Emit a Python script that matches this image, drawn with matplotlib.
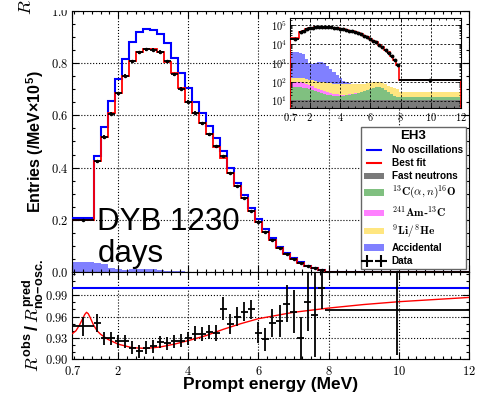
import numpy as np
import matplotlib
matplotlib.use("Agg")
import matplotlib.pyplot as plt
from matplotlib.ticker import FixedLocator, FixedFormatter, MultipleLocator, FuncFormatter, NullFormatter, LogLocator
from matplotlib.lines import Line2D
from matplotlib.patches import Patch, Rectangle

# ---------------- data ----------------
edges = [0.7] + [round(1.3 + 0.2 * i, 1) for i in range(34)] + [12.0]

# spectra in units of 1e5 entries / MeV
best_fit = [0.200, 0.426, 0.518, 0.608, 0.685, 0.751, 0.810, 0.844, 0.855, 0.854,
            0.844, 0.806, 0.761, 0.704, 0.652, 0.610, 0.570, 0.528, 0.480, 0.436,
            0.380, 0.329, 0.282, 0.235, 0.193, 0.154, 0.123, 0.091, 0.069, 0.051,
            0.036, 0.023, 0.014, 0.008, 0.0013]
no_osc = [0.206, 0.446, 0.557, 0.656, 0.739, 0.816, 0.880, 0.918, 0.931, 0.927,
          0.913, 0.879, 0.821, 0.761, 0.704, 0.652, 0.608, 0.559, 0.512, 0.462,
          0.398, 0.342, 0.294, 0.246, 0.203, 0.163, 0.129, 0.096, 0.073, 0.054,
          0.038, 0.024, 0.015, 0.0085, 0.0014]
data_obs = [0.199, 0.424, 0.517, 0.607, 0.684, 0.752, 0.808, 0.841, 0.853, 0.852,
            0.843, 0.807, 0.758, 0.703, 0.652, 0.610, 0.569, 0.527, 0.481, 0.444,
            0.379, 0.330, 0.282, 0.234, 0.191, 0.152, 0.123, 0.092, 0.070, 0.051,
            0.035, 0.023, 0.014, 0.008, 0.0013]
data_err = [0.003, 0.006, 0.006, 0.006, 0.006, 0.006, 0.006, 0.006, 0.006, 0.006,
            0.006, 0.006, 0.006, 0.006, 0.006, 0.005, 0.005, 0.005, 0.005, 0.005,
            0.005, 0.004, 0.004, 0.004, 0.003, 0.003, 0.003, 0.002, 0.002, 0.002,
            0.001, 0.001, 0.001, 0.001, 0.0001]

# backgrounds, entries / MeV
bkg_fastn = [11, 11, 11, 11, 11, 11, 11, 11, 11, 11, 11, 11, 11, 11, 11, 11, 11, 11,
             11, 11, 11, 11, 11, 11, 11, 11, 11, 11, 11, 11, 11, 11, 11, 11, 11]
bkg_c13 = [40, 40, 38, 35, 30, 25, 20, 16, 13, 11, 9, 8, 7, 7, 7, 7, 8, 9, 10, 12,
           14, 17, 21, 26, 32, 38, 42, 42, 36, 27, 18, 11, 7, 5, 4]
bkg_amc = [50, 45, 40, 34, 28, 23, 18, 14, 11, 9, 7, 5.5, 4.3, 3.3, 2.6, 2.0, 1.5,
           1.2, 0.9, 0.7, 0.5, 0.4, 0.3, 0.2, 0.15, 0.1, 0.1, 0.08, 0.06, 0.05,
           0.04, 0.03, 0.02, 0.02, 0.01]
bkg_lihe = [60, 60, 60, 60, 60, 60, 60, 60, 60, 60, 58, 56, 55, 54, 53, 52, 51, 50,
            50, 49, 48, 47, 46, 45, 44, 42, 40, 38, 36, 34, 32, 30, 28, 26, 15]
bkg_acc = [3800, 3400, 2800, 1500, 900, 800, 900, 1000, 1000, 900, 600, 400, 250,
           150, 80, 40, 20, 10, 5, 3, 2, 1, 0.5, 0.3, 0.2, 0.1, 0.1, 0.05, 0.05,
           0.02, 0.02, 0.01, 0.01, 0.01, 0.0]

# ratio panel
ratio_obs = [0.946, 0.951, 0.929, 0.929, 0.925, 0.925, 0.916, 0.911, 0.916, 0.918,
             0.924, 0.922, 0.925, 0.926, 0.929, 0.936, 0.935, 0.938, 0.937, 0.971,
             0.950, 0.960, 0.967, 0.970, 0.937, 0.928, 0.951, 0.954, 0.978, 0.967,
             0.929, 0.981, 0.962, 1.000, 0.969]
ratio_err = [0.013, 0.013, 0.009, 0.009, 0.009, 0.009, 0.009, 0.009, 0.009, 0.009,
             0.009, 0.009, 0.009, 0.009, 0.009, 0.010, 0.010, 0.010, 0.011, 0.016,
             0.014, 0.013, 0.013, 0.014, 0.015, 0.016, 0.020, 0.023, 0.026, 0.030,
             0.030, 0.042, 0.059, 0.030, 0.064]
fit_E = [0.7, 0.8, 0.9, 1.0, 1.05, 1.1, 1.15, 1.2, 1.3, 1.4, 1.5, 1.7, 2.0, 2.4,
         2.8, 3.2, 3.6, 4.0, 4.5, 5.0, 5.5, 6.0, 7.0, 8.0, 9.0, 10.0, 11.0, 12.0]
fit_R = [0.936, 0.940, 0.948, 0.958, 0.963, 0.966, 0.964, 0.959, 0.948, 0.940,
         0.935, 0.928, 0.921, 0.916, 0.915, 0.917, 0.921, 0.926, 0.933, 0.942,
         0.950, 0.957, 0.966, 0.972, 0.977, 0.981, 0.984, 0.987]
no_osc_ratio = 1.0

xtick_vals = [0.7, 2, 4, 6, 8, 10, 12]
xtick_labels = ["0.7", "2", "4", "6", "8", "10", "12"]
ytick_main = [0.0, 0.2, 0.4, 0.6, 0.8, 1.0]
ytick_main_labels = ["0.0", "0.2", "0.4", "0.6", "0.8", "1.0"]
ytick_ratio = [0.90, 0.93, 0.96, 0.99]
ytick_ratio_labels = ["0.90", "0.93", "0.96", "0.99"]
ytick_inset = [1e1, 1e2, 1e3, 1e4, 1e5]

bkg_names = ["Fast neutrons", r"$^{13}\mathbf{C}(\alpha,n)^{16}\mathbf{O}$",
             r"$^{241}\mathbf{Am}$-$^{13}\mathbf{C}$", r"$^{9}\mathbf{Li}/^{8}\mathbf{He}$",
             "Accidental"]
bkg_colors = ["#7a7a7a", "#80c080", "#ff80ff", "#ffe680", "#8080ff"]

# ---------------- style ----------------
plt.rcParams["font.family"] = ["Liberation Sans", "DejaVu Sans"]
plt.rcParams["mathtext.fontset"] = "cm"
plt.rcParams["mathtext.rm"] = "Liberation Sans:bold"
plt.rcParams["mathtext.it"] = "cmmi10"
plt.rcParams["mathtext.bf"] = "Liberation Sans:bold"

edges_a = np.array(edges)
centers = 0.5 * (edges_a[:-1] + edges_a[1:])
halfw = 0.5 * (edges_a[1:] - edges_a[:-1])
bkgs = [np.array(b, float) for b in (bkg_fastn, bkg_c13, bkg_amc, bkg_lihe, bkg_acc)]

fig = plt.figure(figsize=(4.81, 3.97), dpi=100)
ax = fig.add_axes([0.1507, 0.3149, 0.8243, 0.6574])
axr = fig.add_axes([0.1507, 0.0957, 0.8243, 0.2192], sharex=ax)
axin = fig.add_axes([0.603, 0.728, 0.356, 0.227])

def cm_fmt(labels):
    return FixedFormatter(["$" + l + "$" for l in labels])

# ---------------- main panel ----------------
bottom = np.zeros(len(centers))
for b, c in zip(bkgs, bkg_colors):
    top = bottom + b
    ax.stairs(top / 1e5, edges, baseline=bottom / 1e5, fill=True, color=c, lw=0, zorder=1)
    bottom = top
ax.stairs(no_osc, edges, baseline=None, color="blue", lw=1.5, zorder=3)
ax.stairs(best_fit, edges, baseline=None, color="red", lw=1.3, zorder=4)
ax.errorbar(centers, data_obs, xerr=halfw, yerr=data_err, fmt="o", ms=1.5,
            color="k", ecolor="k", elinewidth=1.3, capsize=0, zorder=5)
ax.set_xlim(0.7, 12)
ax.set_ylim(0, 1.0)
ax.yaxis.set_major_locator(FixedLocator(ytick_main))
ax.yaxis.set_major_formatter(cm_fmt(ytick_main_labels))
ax.yaxis.set_minor_locator(MultipleLocator(0.05))
ax.xaxis.set_major_locator(FixedLocator(xtick_vals))
ax.xaxis.set_minor_locator(MultipleLocator(0.25))
ax.grid(True, which="major", ls=":", color="k", lw=0.8)
ax.tick_params(axis="x", labelbottom=False)
ax.set_ylabel(r"Entries (/MeV$\times\mathrm{10}^{5}$)", fontweight="bold", fontsize=11.5,
              math_fontfamily="custom")
ax.yaxis.set_label_coords(-0.067, 0.5)

ax.text(0.063, 0.161, "DYB 1230", transform=ax.transAxes, fontsize=22.5,
        ha="left", va="baseline", zorder=6)
ax.text(0.063, 0.038, "days", transform=ax.transAxes, fontsize=22.5,
        ha="left", va="baseline", zorder=6)

handles = [Line2D([], [], color="blue", lw=1.5), Line2D([], [], color="red", lw=1.5)]
handles += [Patch(facecolor=c, edgecolor="none") for c in bkg_colors]
handles += [Line2D([], [], marker="+", ls="none", color="k", ms=8, mew=1.5)]
labels = ["No oscillations", "Best fit"] + bkg_names + ["Data"]
leg = ax.legend(handles, labels, loc="lower right", title="EH3",
                prop={"family": "Liberation Sans", "weight": "bold", "size": 7.2},
                title_fontproperties={"family": "Liberation Sans", "weight": "bold", "size": 9.5},
                frameon=True, fancybox=False, edgecolor="0.4", framealpha=1,
                numpoints=2, handlelength=2.0, handleheight=0.6, labelspacing=0.3,
                borderaxespad=0.3, borderpad=0.3, handletextpad=0.8)
leg.get_frame().set_linewidth(1.0)
for t in leg.get_texts():
    t.set_math_fontfamily("cm")
    if t.get_text().startswith("$"):
        t.set_fontsize(8.2)
leg.set_zorder(10)

# ---------------- ratio panel ----------------
axr.axhline(no_osc_ratio, color="blue", lw=1.5, zorder=3)
axr.plot(fit_E, fit_R, color="red", lw=1.0, zorder=4)
axr.errorbar(centers, ratio_obs, xerr=halfw, yerr=ratio_err, fmt="none",
             ecolor="k", elinewidth=1.3, capsize=0, zorder=5)
axr.set_ylim(0.90, 1.023)
axr.yaxis.set_major_locator(FixedLocator(ytick_ratio))
axr.yaxis.set_major_formatter(cm_fmt(ytick_ratio_labels))
axr.yaxis.set_minor_locator(MultipleLocator(0.01))
axr.xaxis.set_major_locator(FixedLocator(xtick_vals))
axr.xaxis.set_major_formatter(cm_fmt(xtick_labels))
axr.xaxis.set_minor_locator(MultipleLocator(0.25))
axr.grid(True, which="major", ls=":", color="k", lw=0.8)
axr.set_xlabel("Prompt energy (MeV)", fontweight="bold", fontsize=12.5)
axr.xaxis.set_label_coords(0.5, -0.205)
axr.set_ylabel(r"$R^{\rm obs}\,/\,R^{\rm pred}_{\rm no\!-\!osc.}$", fontsize=13,
               math_fontfamily="custom")
axr.yaxis.set_label_coords(-0.067, 0.5)

for a in (ax, axr):
    a.tick_params(which="both", direction="in", top=True, right=True, width=0.8)
    a.tick_params(which="major", length=5, labelsize=9, pad=3)
    a.tick_params(which="minor", length=2.5)
axr.tick_params(axis="x", which="major", pad=4)

# ---------------- inset ----------------
bottom = np.full(len(centers), 0.1)
for b, c in zip(bkgs, bkg_colors):
    top = bottom + b
    axin.stairs(top, edges, baseline=bottom, fill=True, color=c, lw=0, zorder=1)
    bottom = top
axin.stairs(np.array(best_fit) * 1e5, edges, baseline=0.1, color="red", lw=1.2, zorder=4)
axin.errorbar(centers, np.array(data_obs) * 1e5, xerr=halfw, fmt="o", ms=1.8,
              color="k", elinewidth=1.4, capsize=0, zorder=5)
axin.set_yscale("log")
axin.set_xlim(0.7, 12)
axin.set_ylim(4, 2.5e5)
axin.xaxis.set_major_locator(FixedLocator(xtick_vals))
axin.xaxis.set_major_formatter(cm_fmt(xtick_labels))
axin.xaxis.set_minor_locator(MultipleLocator(0.5))
axin.yaxis.set_major_locator(FixedLocator(ytick_inset))
axin.yaxis.set_major_formatter(FuncFormatter(lambda v, p: r"$10^{%d}$" % round(np.log10(v))))
axin.yaxis.set_minor_locator(LogLocator(base=10, subs=np.arange(2, 10), numticks=20))
axin.yaxis.set_minor_formatter(NullFormatter())
axin.grid(True, which="major", ls=(0, (2.5, 2)), color="k", lw=0.6)
axin.tick_params(which="both", direction="in", top=True, right=True, width=0.6)
axin.tick_params(which="major", length=3, labelsize=7.5, pad=2)
axin.tick_params(which="minor", length=1.5)

# fragments of the neighbouring panel above (cropped)
fig.text(26 / 481, 1 - 15 / 397, r"$R^{\rm obs}\,/\,R^{\rm pred}_{\rm no\!-\!osc.}$",
         rotation=90, ha="center", va="bottom", fontsize=13, math_fontfamily="custom")
fig.patches.append(Rectangle((48 / 481, 1 - 9 / 397), 24 / 481, 9 / 397,
                             transform=fig.transFigure, color="white", zorder=10))

fig.savefig("out.png", dpi=100)
